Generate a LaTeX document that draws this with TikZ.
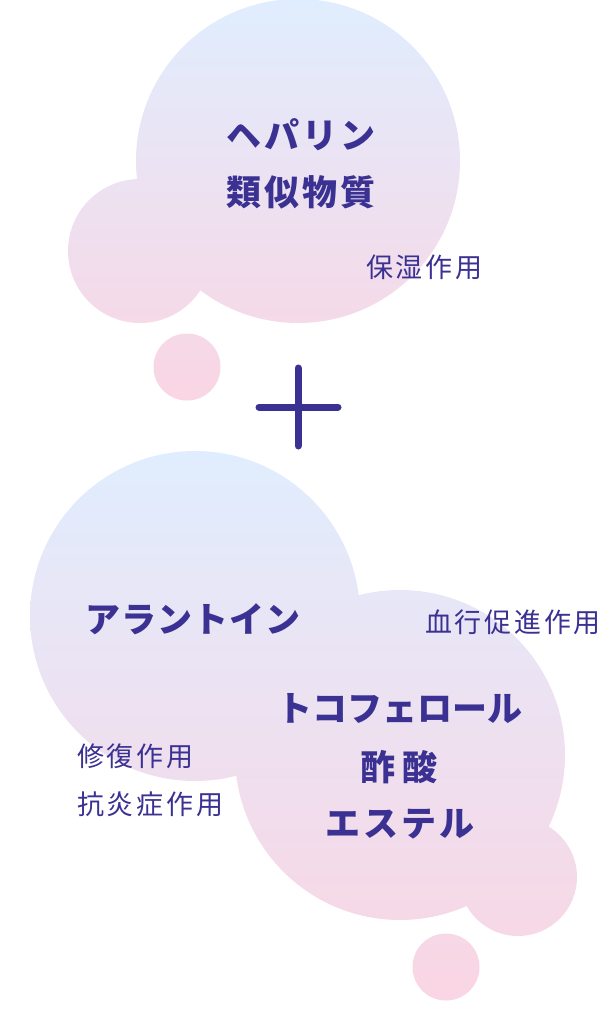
\documentclass[tikz,border=0pt]{standalone}
\usepackage{fontspec}
\newfontfamily\jp{Noto Sans CJK JP}
\newfontfamily\jpsp[LetterSpace=10]{Noto Sans CJK JP}
\newfontfamily\jpbsp[LetterSpace=8]{Noto Sans CJK JP}
\definecolor{ink}{RGB}{58,49,146}
\definecolor{topblue}{RGB}{224,237,254}
\definecolor{botpink}{RGB}{250,213,227}
\begin{document}
\begin{tikzpicture}[x=1pt,y=-1pt,
  blob/.style={shade, top color=topblue, bottom color=botpink, draw=none},
  bigtext/.style={inner sep=0pt, text=ink, font=\jp\bfseries\fontsize{35}{40}\selectfont},
  bigwide/.style={inner sep=0pt, text=ink, font=\jpbsp\bfseries\fontsize{35}{40}\selectfont},
  smalltext/.style={inner sep=0pt, text=ink, anchor=west, font=\jpsp\fontsize{27}{30}\selectfont},
  plusbar/.style={draw=ink, line width=7pt, line cap=round}]
\useasboundingbox (0,0) rectangle (600,1014);
% top cloud
\path[blob] (298,161) circle[radius=162] (140,251) circle[radius=72] (187,367) circle[radius=33.5];
% bottom cloud
\path[blob] (195,616) circle[radius=165] (400,755) circle[radius=165] (518,877) circle[radius=59] (446,967) circle[radius=33.5];
% texts
\node[bigwide] (hep1) at (301,135) {ヘパリン};
\node[bigwide] (hep2) at (301,192) {類似物質};
\node[smalltext] (hoshitsu) at (366,267) {保湿作用};
\node[bigtext] (allan) at (193,619) {ア\kern1ptラ\kern1ptン\kern1ptト\kern1ptイ\kern1ptン};
\node[smalltext] (kekko) at (425,622) {血行促進作用};
\node[bigtext] (toco1) at (400,709) {トコフェロール};
\node[bigtext] (toco2) at (399,767) {酢\kern8pt酸};
\node[bigwide] (toco3) at (400,824) {エステル};
\node[smalltext] (shufuku) at (77,756) {修復作用};
\node[smalltext] (kouen) at (77,804) {抗炎症作用};
% plus sign
\coordinate (pt) at (298,368);
\coordinate (pb) at (298,446);
\coordinate (pl) at (259,407);
\coordinate (pr) at (338,407);
\draw[plusbar] (pt) -- (pb);
\draw[plusbar] (pl) -- (pr);
\end{tikzpicture}
\end{document}
